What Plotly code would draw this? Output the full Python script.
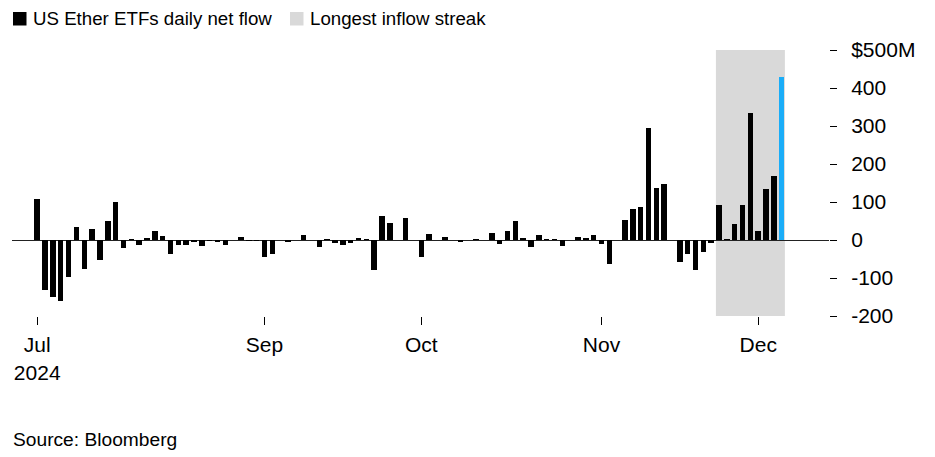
import pandas as pd
import plotly.graph_objects as go

# ---- data ----
start_date = "2024-07-23"
end_date = "2024-12-05"
market_holidays = ["2024-09-02", "2024-11-28"]

net_flow_musd = [
    108, -132, -151, -161, -97, 34, -76,                       # Jul 23-31
    28, -53, 50, 100, -22, 1, -14, 6, 25, 11, -38, -14, -12, -5, -17, -1,
    -4, -12, 0, 7, -2, -1,                                      # Aug
    -46, -37, 0, -5, 0, 13, 0, -18, 1, -8, -14, -8, 5, 2, -78, 63, 44, 0,
    59, 0,                                                      # Sep
    -46, 15, 0, 7, 0, -6, 0, 1, 0, 18, -11, 25, 50, 3, -19, 13, 1, 1, -17,
    0, 9, 6, 14,                                                # Oct
    -10, -62, 0, 53, 82, 87, 296, 137, 147, 0, -58, -38, -80, -32, -8, 92,
    2, 41, 91, 333,                                             # Nov
    25, 133, 168, 428,                                          # Dec
]

streak_start = "2024-11-22"
streak_end = "2024-12-05"

tick_dates = ["2024-07-23", "2024-09-03", "2024-10-01", "2024-11-01", "2024-12-02"]
tick_labels = ["Jul<br>2024", "Sep", "Oct", "Nov", "Dec"]

y_tick_vals = [-200, -100, 0, 100, 200, 300, 400, 500]
y_tick_labels = ["-200", "-100", "0", "100", "200", "300", "400", "$500M"]

legend_labels = ["US Ether ETFs daily net flow", "Longest inflow streak"]
source_text = "Source: Bloomberg"

# ---- build ----
dates = pd.bdate_range(start_date, end_date)
dates = dates[~dates.isin(pd.to_datetime(market_holidays))]
idx = {d.strftime("%Y-%m-%d"): i for i, d in enumerate(dates)}
x = list(range(len(dates)))

BLACK = "#000000"
BLUE = "#1AADF8"
SHADE = "#D9D9D9"
colors = [BLACK] * (len(x) - 1) + [BLUE]

FONT = "Liberation Sans, Arial, Helvetica, sans-serif"

# pixel geometry helpers for layout
FIG_W, FIG_H = 935, 457
L, R, T, B = 12, 106, 50, 141
PW, PH = FIG_W - L - R, FIG_H - T - B


def px(xp):
    return (xp - L) / PW


def py(yp):
    return (FIG_H - B - yp) / PH


fig = go.Figure()
fig.add_trace(go.Bar(
    x=x, y=net_flow_musd, width=0.7,
    marker=dict(color=colors, line=dict(width=0)),
    hovertext=[d.strftime("%b %d, %Y") for d in dates],
    showlegend=False,
))

# Longest inflow streak shading
fig.add_shape(type="rect", xref="x", yref="y",
              x0=idx[streak_start] - 0.4, x1=idx[streak_end] + 0.4,
              y0=min(y_tick_vals), y1=max(y_tick_vals),
              fillcolor=SHADE, line=dict(width=0), layer="below")

# manual legend
fig.add_shape(type="rect", xref="paper", yref="paper",
              x0=px(13), x1=px(26.5), y0=py(25.5), y1=py(12),
              fillcolor=BLACK, line=dict(width=0))
fig.add_shape(type="rect", xref="paper", yref="paper",
              x0=px(290), x1=px(303.5), y0=py(25.5), y1=py(12),
              fillcolor=SHADE, line=dict(width=0))
fig.add_annotation(xref="paper", yref="paper", x=px(31), y=py(18.5),
                   text=legend_labels[0], showarrow=False,
                   xanchor="left", yanchor="middle",
                   font=dict(size=18.7, color=BLACK, family=FONT))
fig.add_annotation(xref="paper", yref="paper", x=px(308), y=py(18.5),
                   text=legend_labels[1], showarrow=False,
                   xanchor="left", yanchor="middle",
                   font=dict(size=18.7, color=BLACK, family=FONT))
fig.add_annotation(xref="paper", yref="paper", x=px(11), y=py(440),
                   text=source_text, showarrow=False,
                   xanchor="left", yanchor="middle",
                   font=dict(size=19.2, color=BLACK, family=FONT))

fig.update_layout(
    width=FIG_W, height=FIG_H,
    margin=dict(l=L, r=R, t=T, b=B, pad=0),
    paper_bgcolor="white", plot_bgcolor="white",
    font=dict(family=FONT, color=BLACK),
    bargap=0,
    xaxis=dict(
        range=[-3.22, 101.03],
        tickmode="array",
        tickvals=[idx[d] for d in tick_dates],
        ticktext=tick_labels,
        ticks="outside", ticklen=8, tickwidth=1, tickcolor=BLACK,
        ticklabelstandoff=2,
        showgrid=False, zeroline=False, showline=False,
        tickfont=dict(size=21, color=BLACK, family=FONT),
        fixedrange=True,
    ),
    yaxis=dict(
        range=[min(y_tick_vals), max(y_tick_vals)],
        side="right",
        tickmode="array",
        tickvals=y_tick_vals,
        ticktext=y_tick_labels,
        ticks="outside", ticklen=7, tickwidth=1, tickcolor=BLACK,
        ticklabelstandoff=10,
        showgrid=False, showline=False,
        zeroline=True, zerolinecolor="#222222", zerolinewidth=1,
        tickfont=dict(size=21, color=BLACK, family=FONT),
        fixedrange=True,
    ),
)

fig.write_html("out.html",
               config={"displayModeBar": False},
               post_script="document.body.style.margin='0';document.body.style.padding='0';")
